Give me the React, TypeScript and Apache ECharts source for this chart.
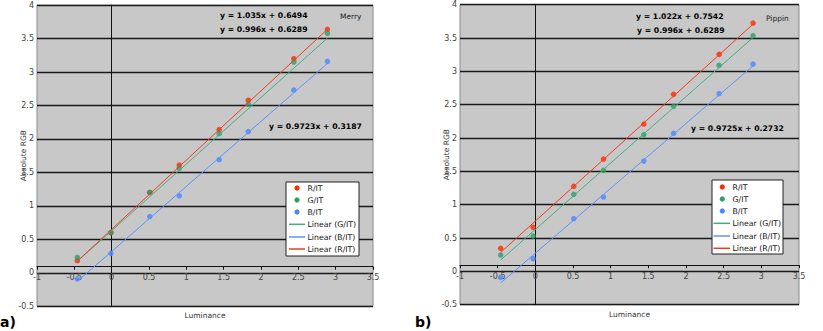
import React, { useEffect, useRef } from "react";
import * as echarts from "echarts";

// ---- data ----
const merryLum = [-0.46, -0.01, 0.51, 0.905, 1.44, 1.83, 2.44, 2.89];
const merryR = [0.18, 0.6, 1.2, 1.61, 2.14, 2.58, 3.2, 3.64];
const merryG = [0.23, 0.6, 1.2, 1.56, 2.08, 2.52, 3.15, 3.58];
const merryB = [-0.09, 0.29, 0.84, 1.15, 1.69, 2.11, 2.73, 3.16];

const pippinLum = [-0.46, -0.03, 0.51, 0.905, 1.44, 1.835, 2.44, 2.89];
const pippinR = [0.345, 0.66, 1.275, 1.685, 2.21, 2.655, 3.255, 3.725];
const pippinG = [0.245, 0.53, 1.155, 1.515, 2.05, 2.475, 3.09, 3.535];
const pippinB = [-0.09, 0.19, 0.79, 1.115, 1.655, 2.07, 2.665, 3.11];

// linear trendlines [slope, intercept] as printed on the chart
const merryFitR = [1.035, 0.6494];
const merryFitG = [0.996, 0.6289];
const merryFitB = [0.9723, 0.3187];
const pippinFitR = [1.022, 0.7542];
const pippinFitG = [0.996, 0.6289];
const pippinFitB = [0.9725, 0.2732];

const merryEquations = ["y = 1.035x + 0.6494", "y = 0.996x + 0.6289", "y = 0.9723x + 0.3187"];
const pippinEquations = ["y = 1.022x + 0.7542", "y = 0.996x + 0.6289", "y = 0.9725x + 0.2732"];
const chartNames = ["Merry", "Pippin"];
const panelLabels = ["a)", "b)"];

const legendNames = ["R/IT", "G/IT", "B/IT", "Linear (G/IT)", "Linear (B/IT)", "Linear (R/IT)"];
const xTitle = "Luminance";
const yTitle = "Absolute RGB";

const xTicks = { min: -1, max: 3.5, interval: 0.5 };
const yTicks = { min: -0.5, max: 4, interval: 0.5 };

// ---- styles ----
const RED = "#ff2a00";
const GREEN = "#2f9e6c";
const BLUE = "#4a86ff";
const LRED = "#f03c20";
const LGREEN = "#45ad85";
const LBLUE = "#5b92ff";
const FONT = "DejaVu Sans";

const fitLine = (lum: number[], fit: number[]) => {
  const x0 = Math.min(...lum);
  const x1 = Math.max(...lum);
  return [
    [x0, fit[0] * x0 + fit[1]],
    [x1, fit[0] * x1 + fit[1]],
  ];
};
const pts = (xs: number[], ys: number[]) => xs.map((x, i) => [x, ys[i]]);

const grids = [
  { left: 37, top: 5.2, width: 336, height: 301 },
  { left: 460, top: 4.7, width: 339, height: 300 },
];

const legendBoxes = [
  { x: 286, y: 182, w: 73, h: 74, rows: [188, 200, 212, 224.3, 237, 249], dotX: 297, lx1: 289, lx2: 305, tx: 307.5 },
  { x: 712, y: 180, w: 71, h: 74, rows: [187, 199, 211, 223.3, 236, 248.3], dotX: 722.3, lx1: 713.5, lx2: 730, tx: 732.5 },
];

const eqPos = [
  [ [220, 15], [220, 29], [269, 126] ],
  [ [636, 16], [637, 30], [691, 128] ],
];
const namePos = [ [340, 16], [766, 18] ];

function buildOption() {
  const datasets = [
    { lum: merryLum, R: merryR, G: merryG, B: merryB, fR: merryFitR, fG: merryFitG, fB: merryFitB, eq: merryEquations },
    { lum: pippinLum, R: pippinR, G: pippinG, B: pippinB, fR: pippinFitR, fG: pippinFitG, fB: pippinFitB, eq: pippinEquations },
  ];

  const series: any[] = [];
  datasets.forEach((d, i) => {
    const base = { xAxisIndex: i, yAxisIndex: i };
    series.push({ ...base, type: "scatter", name: legendNames[0], data: pts(d.lum, d.R), symbolSize: 5.5, itemStyle: { color: RED }, z: 2 });
    series.push({ ...base, type: "scatter", name: legendNames[1], data: pts(d.lum, d.G), symbolSize: 5.5, itemStyle: { color: GREEN }, z: 2 });
    series.push({ ...base, type: "scatter", name: legendNames[2], data: pts(d.lum, d.B), symbolSize: 5.5, itemStyle: { color: BLUE }, z: 2 });
    series.push({ ...base, type: "line", name: legendNames[3], data: fitLine(d.lum, d.fG), showSymbol: false, symbol: "none", lineStyle: { color: LGREEN, width: 1 }, z: 3 });
    series.push({ ...base, type: "line", name: legendNames[4], data: fitLine(d.lum, d.fB), showSymbol: false, symbol: "none", lineStyle: { color: LBLUE, width: 1 }, z: 3 });
    series.push({ ...base, type: "line", name: legendNames[5], data: fitLine(d.lum, d.fR), showSymbol: false, symbol: "none", lineStyle: { color: LRED, width: 1 }, z: 3 });
  });

  const graphic: any[] = [];
  datasets.forEach((d, i) => {
    d.eq.forEach((t, k) => {
      graphic.push({
        type: "text",
        x: eqPos[i][k][0],
        y: eqPos[i][k][1],
        z: 10,
        style: { text: t, fontFamily: FONT, fontSize: 7.7, fontWeight: "bold", fill: "#000", textVerticalAlign: "middle", verticalAlign: "middle" },
      });
    });
    graphic.push({
      type: "text",
      x: namePos[i][0],
      y: namePos[i][1],
      z: 10,
      style: { text: chartNames[i], fontFamily: FONT, fontSize: 7.5, fill: "#222", textVerticalAlign: "middle", verticalAlign: "middle" },
    });
    const lb = legendBoxes[i];
    graphic.push({
      type: "rect",
      z: 10,
      shape: { x: lb.x, y: lb.y, width: lb.w, height: lb.h },
      style: { fill: "#fff", stroke: "#222", lineWidth: 1 },
    });
    const itemColors = [RED, GREEN, BLUE, LGREEN, LBLUE, LRED];
    legendNames.forEach((n, k) => {
      const cy = lb.rows[k];
      if (k < 3) {
        graphic.push({ type: "circle", z: 11, shape: { cx: lb.dotX, cy, r: 2.6 }, style: { fill: itemColors[k] } });
      } else {
        graphic.push({ type: "line", z: 11, shape: { x1: lb.lx1, y1: cy, x2: lb.lx2, y2: cy }, style: { stroke: itemColors[k], lineWidth: 1.5 } });
      }
      graphic.push({
        type: "text",
        z: 11,
        x: lb.tx,
        y: cy,
        style: { text: n, fontFamily: FONT, fontSize: 7.8, fill: "#111", textVerticalAlign: "middle", verticalAlign: "middle" },
      });
    });
  });
  // panel labels
  graphic.push({ type: "text", x: 0, y: 322, z: 10, style: { text: panelLabels[0], fontFamily: FONT, fontSize: 14, fontWeight: "bold", fill: "#000", textVerticalAlign: "middle", verticalAlign: "middle" } });
  graphic.push({ type: "text", x: 415, y: 322, z: 10, style: { text: panelLabels[1], fontFamily: FONT, fontSize: 14, fontWeight: "bold", fill: "#000", textVerticalAlign: "middle", verticalAlign: "middle" } });

  return {
    animation: false,
    backgroundColor: "#fff",
    textStyle: { fontFamily: FONT },
    grid: grids.map((g) => ({ ...g, show: true, outerBoundsMode: "none", containLabel: false, backgroundColor: "#c8c8c8", borderColor: "#8a8a8a", borderWidth: 1 })),
    xAxis: grids.map((_, i) => ({
      type: "value",
      gridIndex: i,
      min: xTicks.min,
      max: xTicks.max,
      interval: xTicks.interval,
      offset: -39.5,
      axisLine: { onZero: false, lineStyle: { color: "#111", width: 1 } },
      axisTick: { show: true, length: 3, lineStyle: { color: "#111" } },
      axisLabel: { fontSize: 8, color: "#444", margin: 7, fontFamily: FONT },
      splitLine: { show: false },
      name: xTitle,
      nameLocation: "middle",
      nameGap: 45,
      nameMoveOverlap: false,
      nameTextStyle: { fontSize: 7.5, color: "#333", fontFamily: FONT },
    })),
    yAxis: grids.map((_, i) => ({
      type: "value",
      gridIndex: i,
      min: yTicks.min,
      max: yTicks.max,
      interval: yTicks.interval,
      axisLine: { onZero: true, lineStyle: { color: "#111", width: 1 } },
      axisTick: { show: true, length: 3, lineStyle: { color: "#111" } },
      axisLabel: { fontSize: 8, color: "#444", margin: 3, fontFamily: FONT },
      splitLine: { show: true, lineStyle: { color: "#1a1a1a", width: 1.3 } },
      name: yTitle,
      nameLocation: "middle",
      nameGap: 10,
      nameRotate: 90,
      nameMoveOverlap: false,
      nameTextStyle: { fontSize: 7.5, color: "#333", fontFamily: FONT },
    })),
    series,
    graphic,
  };
}

export default function App() {
  const ref = useRef<HTMLDivElement>(null);
  useEffect(() => {
    document.body.style.margin = "0";
    if (!ref.current) return;
    const chart = echarts.init(ref.current, undefined, { renderer: "svg" });
    chart.setOption(buildOption() as any);
    return () => chart.dispose();
  }, []);
  return <div ref={ref} style={{ position: "absolute", left: 0, top: 0, width: 823, height: 331 }} />;
}
